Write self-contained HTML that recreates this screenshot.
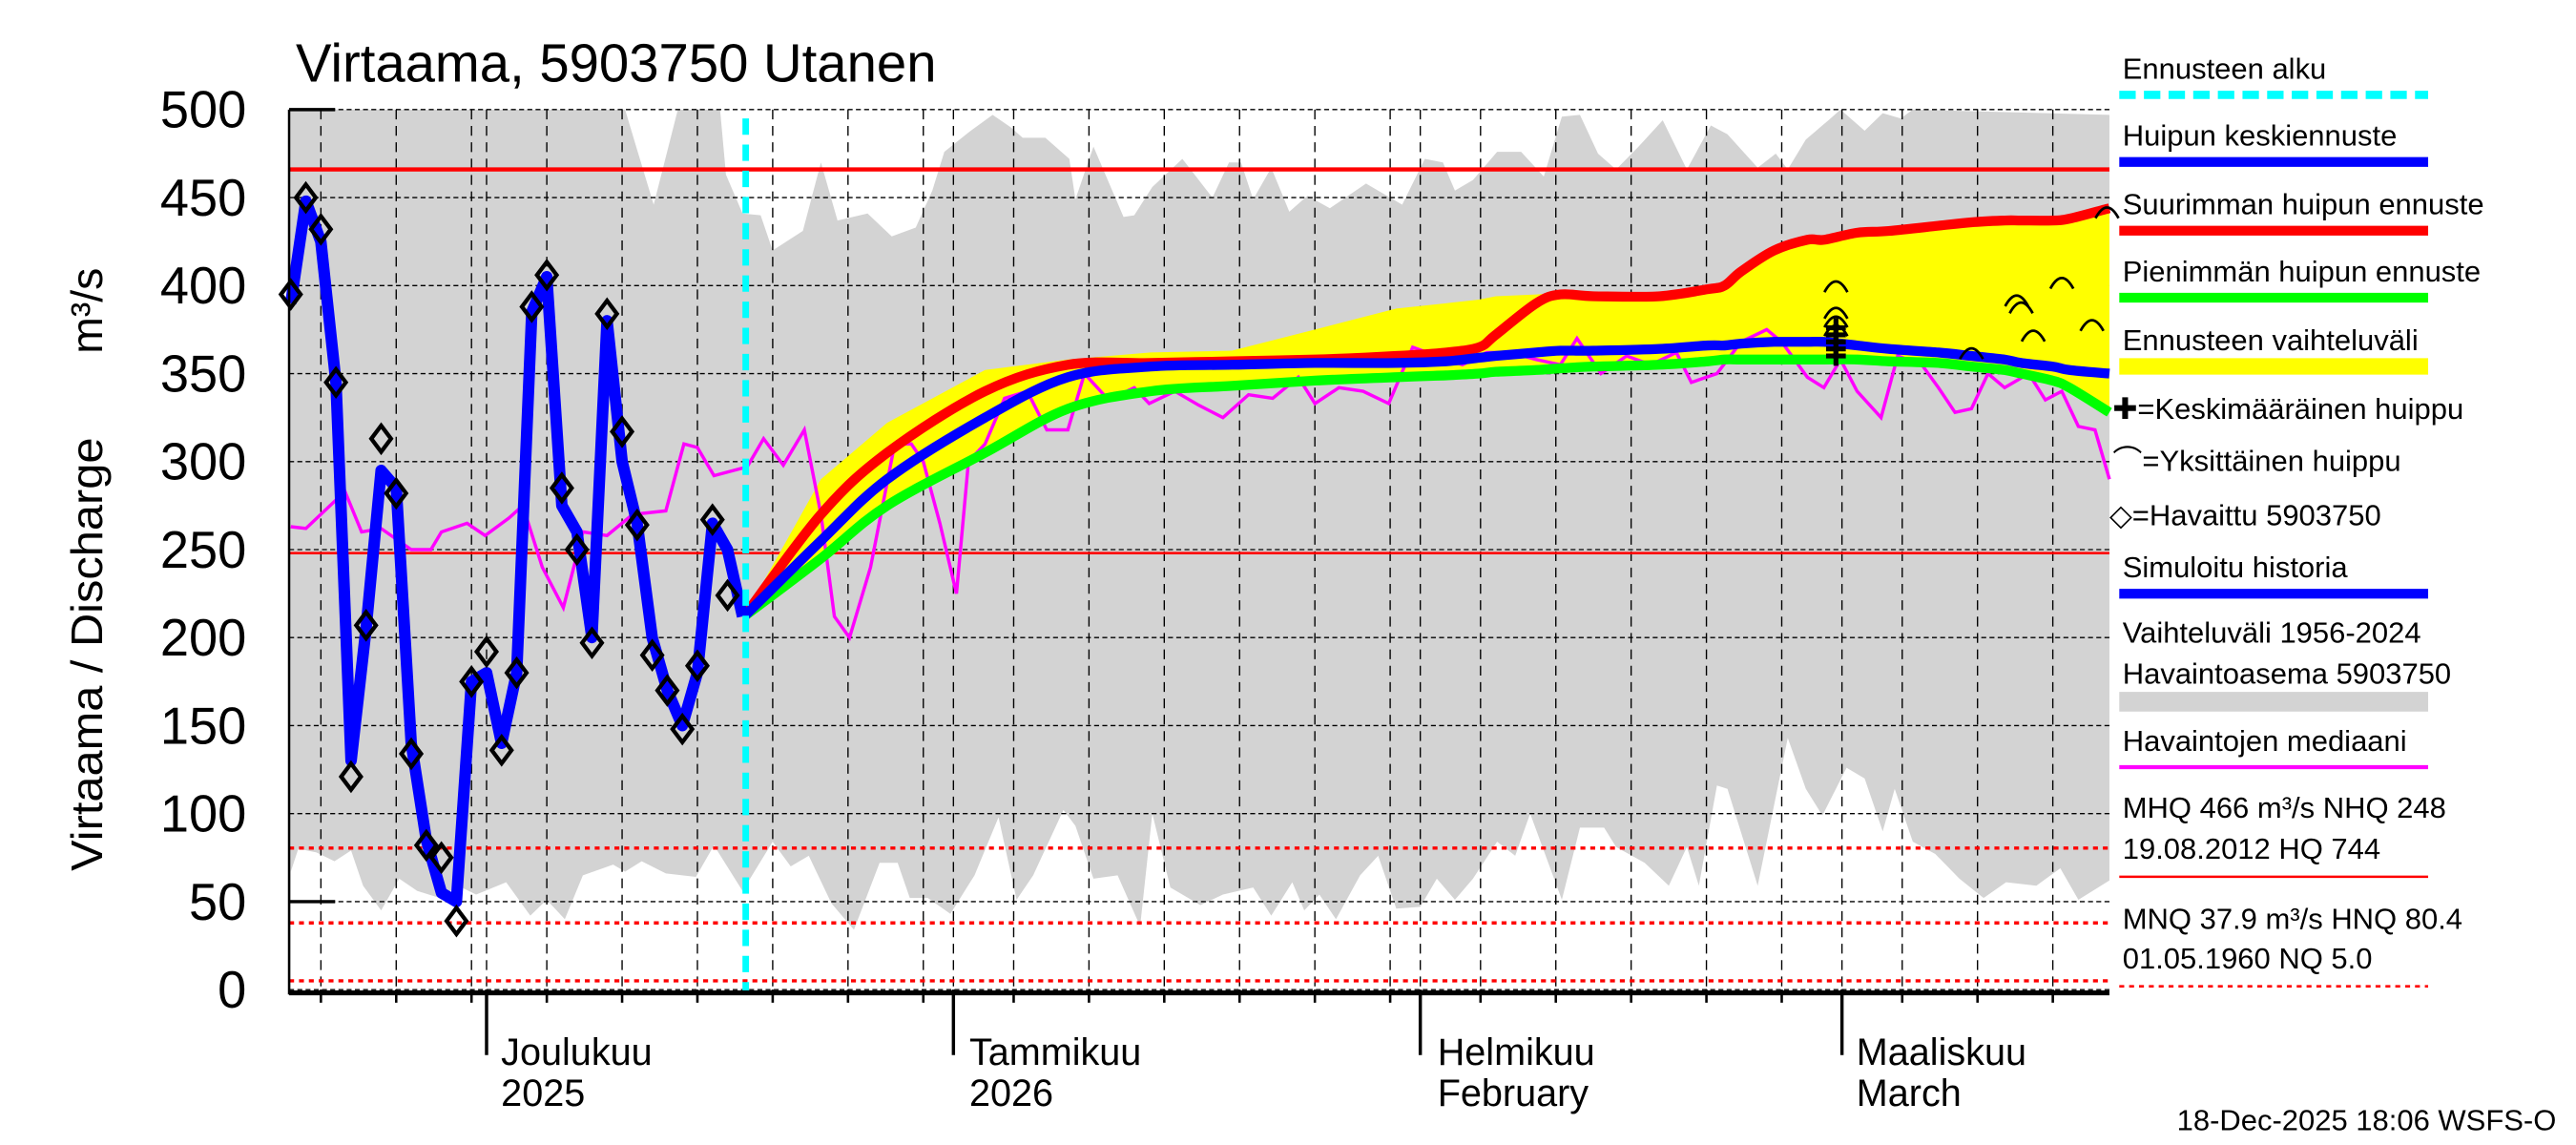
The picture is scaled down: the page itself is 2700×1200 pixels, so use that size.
<!DOCTYPE html>
<html><head><meta charset="utf-8">
<style>
html,body{margin:0;padding:0;background:#fff;}
svg{display:block;}
text{font-family:"Liberation Sans Narrow","Liberation Sans",sans-serif;}
</style></head>
<body>
<svg id="chart" width="2700" height="1200" viewBox="0 0 1568 700" preserveAspectRatio="none" xmlns="http://www.w3.org/2000/svg">
<rect x="0" y="0" width="1568" height="700" fill="#fff"/>
<g id="plot"></g>
<text x="180" y="50" font-size="33" textLength="390" lengthAdjust="spacingAndGlyphs">Virtaama, 5903750 Utanen</text>
<g>
<text transform="translate(62,400) rotate(-90)" font-size="27" text-anchor="middle" textLength="265" lengthAdjust="spacingAndGlyphs">Virtaama / Discharge</text>
<text transform="translate(62,190) rotate(-90)" font-size="27" text-anchor="middle">m³/s</text>
</g>
<g id="yticks" font-size="32" text-anchor="end"></g>
<g font-size="23">
<text x="305" y="651">Joulukuu</text><text x="305" y="676">2025</text>
<text x="590" y="651">Tammikuu</text><text x="590" y="676">2026</text>
<text x="875" y="651">Helmikuu</text><text x="875" y="676">February</text>
<text x="1130" y="651">Maaliskuu</text><text x="1130" y="676">March</text>
</g>
<text x="1556" y="691" font-size="18" text-anchor="end">18-Dec-2025 18:06 WSFS-O</text>
<g font-size="18">
<text x="1292" y="48">Ennusteen alku</text>
<line x1="1290" y1="58" x2="1478" y2="58" stroke="#0ff" stroke-width="5" stroke-dasharray="10,5"/>
<text x="1292" y="89">Huipun keskiennuste</text>
<line x1="1290" y1="99" x2="1478" y2="99" stroke="#0000ff" stroke-width="6"/>
<text x="1292" y="131">Suurimman huipun ennuste</text>
<line x1="1290" y1="141" x2="1478" y2="141" stroke="#f00" stroke-width="6"/>
<text x="1292" y="172">Pienimmän huipun ennuste</text>
<line x1="1290" y1="182" x2="1478" y2="182" stroke="#0f0" stroke-width="6"/>
<text x="1292" y="214">Ennusteen vaihteluväli</text>
<line x1="1290" y1="224" x2="1478" y2="224" stroke="#ff0" stroke-width="10"/>
<text x="1286" y="256">✚=Keskimääräinen huippu</text>
<text x="1286" y="288">⌒=Yksittäinen huippu</text>
<text x="1284" y="321">◇=Havaittu 5903750</text>
<text x="1292" y="353">Simuloitu historia</text>
<line x1="1290" y1="363" x2="1478" y2="363" stroke="#0000ff" stroke-width="6"/>
<text x="1292" y="393">Vaihteluväli 1956-2024</text>
<text x="1292" y="418">Havaintoasema 5903750</text>
<line x1="1290" y1="429" x2="1478" y2="429" stroke="#d3d3d3" stroke-width="12"/>
<text x="1292" y="459">Havaintojen mediaani</text>
<line x1="1290" y1="469" x2="1478" y2="469" stroke="#f0f" stroke-width="2.5"/>
<text x="1292" y="500">MHQ  466 m³/s NHQ  248</text>
<text x="1292" y="525">19.08.2012 HQ  744</text>
<line x1="1290" y1="536" x2="1478" y2="536" stroke="#f00" stroke-width="1.5"/>
<text x="1292" y="568">MNQ 37.9 m³/s HNQ 80.4</text>
<text x="1292" y="592">01.05.1960 NQ  5.0</text>
<line x1="1290" y1="603" x2="1478" y2="603" stroke="#f00" stroke-width="1.5" stroke-dasharray="3,3"/>
</g>
</svg>
<script>
// ---- data (days from 18 Nov 2025, values in m3/s) ----
const yTicks = [0,50,100,150,200,250,300,350,400,450,500];
const gridDays = [2,7,12,17,22,27,32,37,42,48,53,58,63,68,73,79,84,89,94,99,107,112,117];
const monthDays = [13,44,75,103];
const refSolid = [466,248];
const refDotted = [80.4,37.9,5.0];
const forecastStartDay = 30.1;
const bandUpDays = [0,22.2,22.9,24.1,25.7,28.5,28.9,30.0,31.2,32.0,34.0,35.2,36.3,38.3,39.9,41.5,42.6,43.4,45.0,46.6,47.8,48.6,50.1,51.7,52.1,53.3,54.1,55.3,56.0,57.2,59.2,61.2,62.3,63.1,63.9,65.1,66.3,67.5,69.0,71.4,73.8,75.3,76.5,77.3,78.5,80.1,81.7,83.2,84.4,85.6,86.8,88.0,89.5,91.1,92.7,94.3,95.4,97.4,98.6,99.4,100.6,102.1,102.9,104.5,105.7,106.9,107.7,120.8];
const bandUpVals = [500,500,480,446,500,500,463,441,440,420,431,470,437,441,428,433,454,476,487,497,490,484,484,472,449,479,463,439,440,456,472,450,470,470,449,467,442,451,444,458,446,472,470,454,460,476,476,462,496,497,475,466,479,494,466,491,486,467,475,466,483,494,500,488,498,495,500,497];
const bandLoDays = [0,0.5,1.7,2.9,4.0,4.8,6.0,7.2,8.4,9.9,11.1,12.3,14.3,15.9,17.0,18.2,19.4,21.4,22.2,23.3,24.9,26.9,28.1,30.0,32.0,33.2,34.4,35.9,37.4,39.1,40.3,41.1,42.3,43.8,45.4,47.0,48.2,49.3,51.3,52.1,53.3,54.9,56.4,57.2,58.4,60.4,61.9,63.9,65.1,66.5,67.3,68.3,69.4,71.0,72.2,73.4,75.0,76.1,77.3,78.5,80.1,81.3,82.3,84.4,85.6,87.2,88.0,89.9,91.5,92.7,93.5,94.7,95.4,97.4,99.4,100.6,101.7,103.3,104.5,105.7,106.5,107.7,109.2,110.8,112.4,113.9,115.9,117.5,118.7,120.8];
const bandLoVals = [67,80,78,73,79,59,45,63,56,52,59,54,61,42,51,40,65,71,67,73,66,64,82,56,84,70,76,49,34,72,72,52,52,43,65,98,51,65,102,93,63,65,36,100,58,48,54,58,42,61,45,54,40,65,76,46,47,63,51,63,84,76,100,51,92,92,81,72,59,81,59,116,114,59,143,114,99,126,120,90,114,84,77,63,52,61,59,69,51,62];
const medDays = [0,1,3.6,4.7,6,8,9.3,10,11.7,12.9,14.5,15.4,16.7,18.1,19.4,21,22.7,24.9,26.1,27,28.1,30.3,31.4,32.7,34.1,35.2,36.1,37.1,38.5,40.1,41.2,42,43.1,44.2,45,46.1,47.4,48.9,50.2,51.6,52.7,54.3,56,57,58.7,60.3,61.9,63.6,65.2,66.9,68,69.6,71.2,72.9,74.5,76.1,77.8,79.4,81,82.7,84.3,85.4,87,88.7,90.3,92,93,94.7,96.3,98,99,100.7,101.8,102.9,104,105.6,106.7,108.3,109.4,110.5,111.6,112.7,113.8,115.4,116.5,117.6,118.7,119.8,120.8];
const medVals = [263,262,283,260,262,250,250,260,265,258,268,275,240,217,260,258,270,272,310,308,292,297,313,298,318,270,212,200,240,310,310,300,265,225,300,310,336,340,318,318,350,335,342,333,340,332,325,338,336,348,333,342,340,333,365,360,355,362,362,358,355,370,350,360,355,362,345,350,368,375,368,348,342,358,340,325,360,355,342,328,330,350,342,350,335,340,320,318,290];
const obsVals = [395,450,432,345,121,207,313,282,134,82,75,39,175,192,136,180,388,406,285,250,197,384,317,264,190,170,148,184,267,224];
const simVals = [390,448,425,345,130,205,295,285,140,85,55,50,175,180,140,180,385,405,275,260,200,380,300,265,200,170,150,180,265,250,212];
const fcDays = [30.1,35.2,39.6,46.1,51.6,57.1,62.5,68,73.4,76.7,78.9,80,82.7,84.3,86.5,90.9,94.1,95.2,96.3,98.5,100.7,101.8,104,106.1,109.4,111.6,113.8,114.9,117,118.1,120.8];
const fcMax = [212,270,305,340,355,356,357,358,360,362,365,372,390,395,394,394,398,400,408,420,426,426,430,431,434,436,437,437,437,438,444];
const fcMean = [212,255,290,325,348,354,355,356,356,357,359,360,362,363,363,364,366,366,367,368,368,368,366,364,362,360,358,356,354,352,350];
const fcMin = [212,245,275,305,330,340,343,346,348,349,350,351,352,353,354,355,357,358,358,358,358,358,358,357,356,354,352,350,346,342,328];
const fcTop = [212,290,322,352,358,362,363,375,387,390,392,394,395,396,396,396,398,400,408,420,426,426,430,431,434,436,437,437,437,438,444];
const meanPeakDays = [102.6,102.6,102.6,102.6,102.6];
const meanPeakVals = [360,364,368,372,376];
const singlePeakDays = [102.6,102.6,102.6,102.6,111.6,114.6,114.9,115.7,117.6,119.6,120.6];
const singlePeakVals = [400,385,380,375,362,392,388,372,402,378,442];

// ---- axes ----
const X0 = 176, X1 = 1284, Y0 = 605;
function xs(d){ return Math.max(X0, Math.min(X1, 177 + d*9.167)); }
function ys(v){ return Y0 - v*1.076; }
const NS = "http://www.w3.org/2000/svg";
const plot = document.getElementById('plot');
function mk(tag, attrs, parent){ const e=document.createElementNS(NS,tag); for(const k in attrs) e.setAttribute(k,attrs[k]); (parent||plot).appendChild(e); return e; }
function pts(days, vals){ return days.map((d,i)=>xs(d).toFixed(1)+','+ys(vals[i]).toFixed(1)).join(' '); }
function smooth(days, vals){
  const P = days.map((d,i)=>[xs(d), ys(vals[i])]);
  let s = 'M'+P[0][0].toFixed(1)+','+P[0][1].toFixed(1);
  for(let i=0;i<P.length-1;i++){
    const p0=P[Math.max(0,i-1)], p1=P[i], p2=P[i+1], p3=P[Math.min(P.length-1,i+2)];
    const c1=[p1[0]+(p2[0]-p0[0])/6, p1[1]+(p2[1]-p0[1])/6];
    const c2=[p2[0]-(p3[0]-p1[0])/6, p2[1]-(p3[1]-p1[1])/6];
    s += ` C${c1[0].toFixed(1)},${c1[1].toFixed(1)} ${c2[0].toFixed(1)},${c2[1].toFixed(1)} ${p2[0].toFixed(1)},${p2[1].toFixed(1)}`;
  }
  return s;
}

// gray band
let bandPts = pts(bandUpDays, bandUpVals) + ' ' + pts(bandLoDays.slice().reverse(), bandLoVals.slice().reverse());
let band = mk('polygon',{points:bandPts, fill:'#d3d3d3'});



// grid
yTicks.forEach(v=>{
  const g = mk('line',{x1:X0,x2:X1,y1:ys(v),y2:ys(v),stroke:'#000','stroke-width':0.8,'stroke-dasharray':'3,2'});
  
  
});
gridDays.concat(monthDays).forEach(d=>{
  const g = mk('line',{x1:xs(d),x2:xs(d),y1:ys(500),y2:Y0,stroke:'#000','stroke-width':0.8,'stroke-dasharray':'6,4'});
  
  
});

// reference lines
refSolid.forEach((v,i)=>{
  const l = mk('line',{x1:X0,x2:X1,y1:ys(v),y2:ys(v),stroke:'#f00','stroke-width':i===0?2.5:1.5});
  
  
});
refDotted.forEach(v=>{
  const l = mk('line',{x1:X0,x2:X1,y1:ys(v),y2:ys(v),stroke:'#f00','stroke-width':2,'stroke-dasharray':'3,3'});
  
  
});

// yellow forecast range
let yPts = pts(fcDays, fcTop) + ' ' + pts(fcDays.slice().reverse(), fcMin.slice().reverse());
let yb = mk('polygon',{points:yPts, fill:'#ff0'});



// median
let med = mk('polyline',{points:pts(medDays, medVals), fill:'none', stroke:'#f0f','stroke-width':2});



// forecasts
let gmin = mk('path',{d:smooth(fcDays, fcMin), fill:'none', stroke:'#0f0','stroke-width':6,'stroke-linejoin':'round'});


let rmax = mk('path',{d:smooth(fcDays, fcMax), fill:'none', stroke:'#f00','stroke-width':6,'stroke-linejoin':'round'});


let bmean = mk('path',{d:smooth(fcDays, fcMean), fill:'none', stroke:'#0000ff','stroke-width':6,'stroke-linejoin':'round'});



// simulated history
let simDays = simVals.map((v,i)=>i);
let sim = mk('polyline',{points:pts(simDays, simVals), fill:'none', stroke:'#0000ff','stroke-width':7,'stroke-linejoin':'round'});



// observed diamonds
obsVals.forEach((v,i)=>{
  const cx = xs(i), cy = ys(v);
  const p = mk('polygon',{points:`${cx},${cy-8} ${cx+6},${cy} ${cx},${cy+8} ${cx-6},${cy}`, fill:'none', stroke:'#000','stroke-width':2.5});
  
  
});

// mean peak markers
meanPeakDays.forEach((d,i)=>{
  const cx = xs(d), cy = ys(meanPeakVals[i]);
  const p = mk('path',{d:`M${cx-6},${cy}H${cx+6}M${cx},${cy-6}V${cy+6}`, stroke:'#000','stroke-width':3});
  
  
});
// single peaks
singlePeakDays.forEach((d,i)=>{
  const cx = xs(d), cy = ys(singlePeakVals[i]);
  const p = mk('path',{d:`M${cx-7},${cy+4} Q${cx},${cy-9} ${cx+7},${cy+4}`, fill:'none', stroke:'#000','stroke-width':1.6});
  
  
});

// forecast start
let fs = mk('line',{x1:xs(forecastStartDay)+1,x2:xs(forecastStartDay)+1,y1:ys(495),y2:Y0+2,stroke:'#0ff','stroke-width':4,'stroke-dasharray':'10,6'});



// axes
let ya = mk('line',{x1:X0,x2:X0,y1:ys(500),y2:Y0+3,stroke:'#000','stroke-width':1.5});


let xa = mk('line',{x1:X0,x2:X1,y1:Y0+2,y2:Y0+2,stroke:'#000','stroke-width':3});


[500,50].forEach(v=>{
  const t = mk('line',{x1:X0,x2:X0+28,y1:ys(v),y2:ys(v),stroke:'#000','stroke-width':2});
  
  
});
gridDays.forEach(d=>{
  const t = mk('line',{x1:xs(d),x2:xs(d),y1:Y0,y2:Y0+8,stroke:'#000','stroke-width':1.5});
  
  
});
monthDays.forEach(d=>{
  const t = mk('line',{x1:xs(d),x2:xs(d),y1:Y0,y2:Y0+40,stroke:'#000','stroke-width':2});
  
  
});

const yt = document.getElementById('yticks');
yTicks.forEach(v=>{
  const t = document.createElementNS(NS,'text');
  t.setAttribute('x', 150);
  t.setAttribute('y', ys(v)+11);
  t.textContent = v;
  t.setAttribute('textLength', String(v).length*17.5);
  t.setAttribute('lengthAdjust', 'spacingAndGlyphs');
  
  
  yt.appendChild(t);
});
</script>
</body></html>
